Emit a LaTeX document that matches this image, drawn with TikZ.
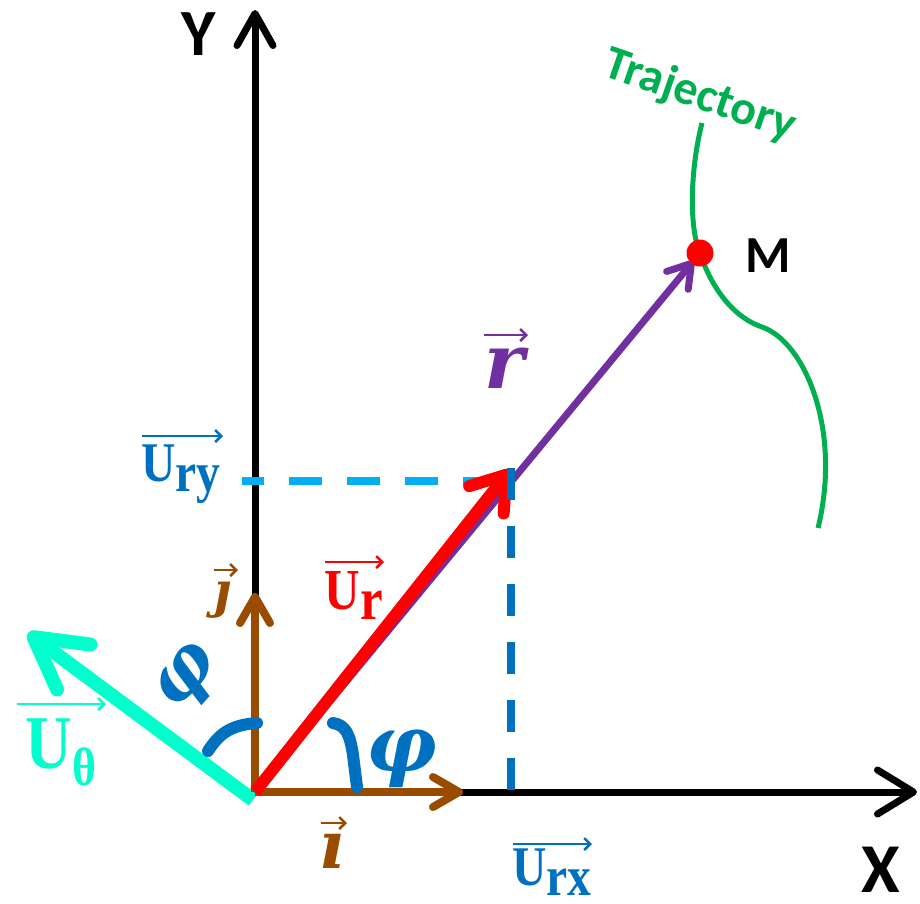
\documentclass[tikz,border=0pt]{standalone}
\usepackage{graphicx}
\usepackage{fontspec}
\setmainfont{Liberation Serif}
\newfontfamily\carl{Carlito}
\newfontfamily\dvs{DejaVu Serif}
\usetikzlibrary{arrows.meta}
\definecolor{brn}{RGB}{153,76,0}
\definecolor{prp}{RGB}{112,48,160}
\definecolor{grn}{RGB}{0,176,80}
\definecolor{lblue}{RGB}{0,176,240}
\definecolor{dblue}{RGB}{0,112,192}
\definecolor{aqua}{RGB}{0,255,204}
\newcommand\ulab[4]{\scalebox{0.85}[1]{\fontsize{#1}{#1}\selectfont\bfseries U\raisebox{-#3pt}{\fontsize{#2}{#2}\selectfont #4}}}
\newcommand\mlab[2]{{\dvs\bfseries\itshape\fontsize{#1}{#1}\selectfont #2}}
\tikzset{
  barbtip/.style 2 args={-{Straight Barb[round,length=#1pt,width=#2pt]}},
  axisline/.style={line width=7pt, black, barbtip={32}{36}},
  ovarr/.style={line width=2.5pt, -{Straight Barb[length=6pt,width=12pt]}},
  lab/.style={inner sep=0pt, outer sep=0pt},
  sanslab/.style={lab, font=\carl\bfseries},
  anglearc/.style={line width=12pt, dblue, line cap=round},
}
\begin{document}
\begin{tikzpicture}[x=1pt,y=-1pt]
\useasboundingbox (0,0) rectangle (920,903);
% key points
\coordinate (O) at (255,792);
\coordinate (Yb) at (255,796);
\coordinate (Yt) at (255,10);
\coordinate (Xb) at (251,792);
\coordinate (Xt) at (917,792);
\coordinate (Ti) at (463,792);
\coordinate (Tj) at (255,593);
\coordinate (Tur) at (510,470);
\coordinate (M) at (700,253);
\coordinate (Uth0) at (253,800);
\coordinate (Tuth) at (28,633);
% axes
\draw[axisline] (Yb) -- (Yt);
\draw[axisline, barbtip={36}{44}] (Xb) -- (Xt);
% U theta
\draw[aqua, line width=14pt, barbtip={50}{56}] (Uth0) -- (Tuth);
% dashed projections (horizontal)
\draw[lblue, line width=8pt, dash pattern=on 33pt off 25pt, dash phase=11pt] (242,481) -- (506,481);
% unit vectors i, j
\draw[brn, line width=8pt, barbtip={26}{30}] (O) -- (Ti);
\draw[brn, line width=8pt, barbtip={26}{30}] (O) -- (Tj);
% trajectory
\draw[grn, line width=5pt] (702,123) .. controls (690,170) and (689,228) .. (M)
  .. controls (712,290) and (735,318) .. (762,327)
  .. controls (805,342) and (842,430) .. (818,528);
% r vector
\draw[prp, line width=7pt, barbtip={22}{28}, shorten >=10pt] (O) -- (M);
% U_r
\draw[red, line width=12pt, barbtip={32}{44}] (O) -- (Tur);
% dashed projection (vertical)
\draw[dblue, line width=8pt, dash pattern=on 32pt off 26pt] (511,468) -- (511,792);
% point M
\fill[red] (M) circle (13.5pt);
% angle marks
\draw[anglearc] (333,723) .. controls (346,725) and (350,735) .. (353,755) -- (357,787);
\draw[anglearc] (208,751) .. controls (218,736) and (228,725) .. (257,723);
% axis labels
\node[sanslab, font=\carl\bfseries\fontsize{66}{66}\selectfont] (ylab) at (199,34) {Y};
\node[sanslab, font=\carl\bfseries\fontsize{70}{70}\selectfont] (xlab) at (881,870) {X};
\node[sanslab, font=\carl\bfseries\fontsize{52}{52}\selectfont] (mlab) at (768,256) {M};
\node[sanslab, grn, rotate=-19, font=\carl\bfseries\fontsize{48}{48}\selectfont] (traj) at (700,96) {Trajectory};
% vector labels
\node[lab, brn] (ilab) at (332,851) {\mlab{66}{ı}};
\draw[ovarr, brn] (321,823) -- (347,823);
\node[lab, brn] (jlab) at (222,600) {\mlab{49}{ȷ}};
\draw[ovarr, brn] (214,570) -- (238,570);
\node[lab, prp] (rlab) at (505,368) {\mlab{76}{r}};
\draw[ovarr, prp] (484,335) -- (528,335);
\node[lab, dblue] (phi1) at (402,758) {\mlab{78}{φ}};
\node[lab, dblue, rotate=48] (phi2) at (189,679) {\mlab{72}{φ}};
% U labels
\node[lab, red] (urlab) at (354,595) {\ulab{58}{60}{10}{r}};
\draw[ovarr, red] (325,562) -- (384,562);
\node[lab, dblue] (urylab) at (181,474) {\ulab{56}{56}{10}{ry}};
\draw[ovarr, dblue] (142,436) -- (223,436);
\node[lab, dblue] (urxlab) at (552,872) {\ulab{56}{56}{10}{rx}};
\draw[ovarr, dblue] (513,844) -- (592,844);
\node[lab, aqua] (uthlab) at (61,752) {\ulab{76}{54}{17}{θ}};
\draw[ovarr, aqua] (17,704) -- (106,704);
\end{tikzpicture}
\end{document}
